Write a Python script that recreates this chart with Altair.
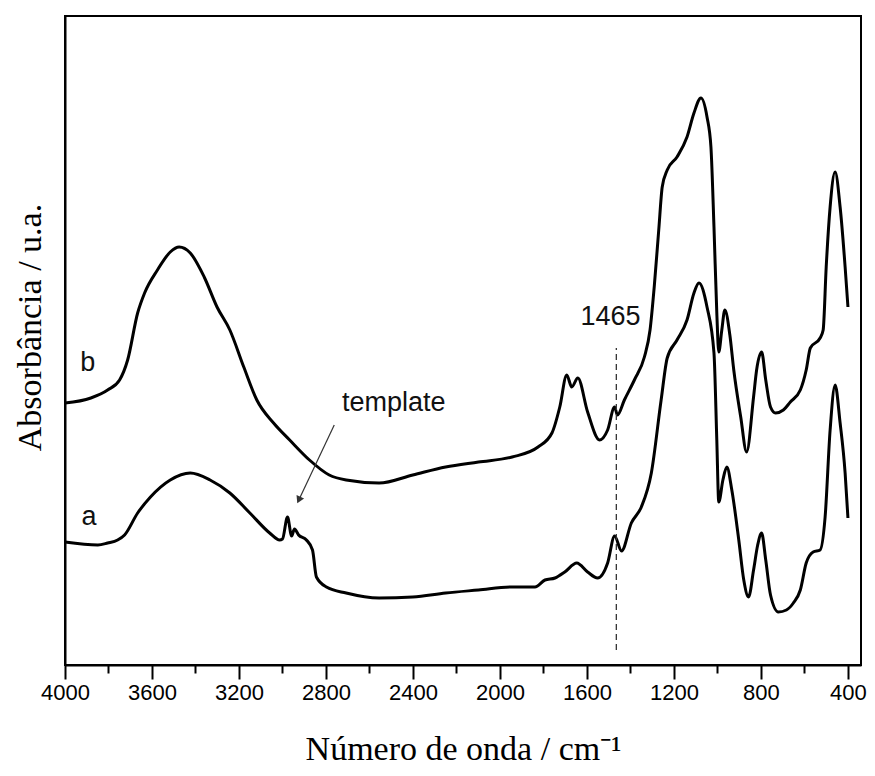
import altair as alt
import pandas as pd

# ---- data (wavenumber in cm-1, absorbance in a.u.) ----
wn_b = [4000, 3881, 3804, 3749, 3712, 3666, 3634, 3575, 3516, 3475, 3424, 3360, 3301,
        3242, 3178, 3118, 3041, 2967, 2876, 2785, 2707, 2556, 2401, 2250, 2099, 1944,
        1825, 1761, 1725, 1693, 1670, 1642, 1597, 1542, 1505, 1473, 1460, 1428, 1382,
        1336, 1310, 1290, 1270, 1254, 1231, 1186, 1140, 1108, 1076, 1048, 1030, 1016,
        1003, 994, 980, 966, 943, 925, 893, 866, 834, 820, 797, 778, 756, 733, 697,
        665, 619, 592, 573, 528, 514, 500, 482, 459, 436, 413, 400]
abs_b = [2.62, 2.67, 2.75, 2.85, 3.05, 3.52, 3.72, 3.95, 4.13, 4.18, 4.12, 3.88, 3.58,
         3.35, 2.98, 2.65, 2.42, 2.25, 2.05, 1.90, 1.85, 1.82, 1.90, 1.98, 2.03, 2.08,
         2.18, 2.32, 2.58, 2.90, 2.78, 2.87, 2.53, 2.25, 2.35, 2.58, 2.50, 2.65, 2.85,
         3.08, 3.35, 3.80, 4.35, 4.78, 4.95, 5.08, 5.28, 5.52, 5.67, 5.48, 5.18, 4.38,
         3.52, 3.13, 3.35, 3.55, 3.30, 2.95, 2.48, 2.13, 2.68, 2.95, 3.13, 2.85, 2.58,
         2.52, 2.55, 2.63, 2.75, 2.95, 3.17, 3.27, 3.35, 3.98, 4.58, 4.93, 4.58, 3.98,
         3.58]

wn_a = [4000, 3849, 3804, 3758, 3726, 3666, 3607, 3516, 3424, 3333, 3242, 3150, 3059,
        3013, 3000, 2977, 2958, 2945, 2926, 2890, 2862, 2844, 2798, 2707, 2556, 2401,
        2250, 2099, 1944, 1839, 1793, 1747, 1702, 1647, 1597, 1551, 1505, 1473, 1441,
        1396, 1350, 1304, 1259, 1231, 1186, 1140, 1108, 1085, 1048, 1016, 1003, 994,
        975, 957, 934, 902, 879, 857, 834, 815, 797, 778, 756, 720, 683, 651, 619, 592,
        560, 528, 505, 482, 459, 436, 413, 400]
abs_a = [1.23, 1.20, 1.22, 1.25, 1.30, 1.52, 1.68, 1.85, 1.92, 1.85, 1.72, 1.52, 1.32,
         1.25, 1.26, 1.48, 1.29, 1.36, 1.30, 1.25, 1.15, 0.88, 0.78, 0.72, 0.67, 0.68,
         0.72, 0.75, 0.78, 0.78, 0.85, 0.87, 0.93, 1.02, 0.93, 0.87, 1.02, 1.29, 1.14,
         1.42, 1.58, 1.92, 2.65, 3.07, 3.25, 3.45, 3.72, 3.82, 3.58, 3.12, 2.25, 1.63,
         1.85, 1.98, 1.75, 1.25, 0.85, 0.68, 0.95, 1.20, 1.32, 1.05, 0.70, 0.53, 0.55,
         0.62, 0.75, 1.02, 1.13, 1.15, 1.48, 2.35, 2.80, 2.42, 1.92, 1.47]

major_ticks = [4000, 3600, 3200, 2800, 2400, 2000, 1600, 1200, 800, 400]
minor_ticks = [3800, 3400, 3000, 2600, 2200, 1800, 1400, 1000, 600]

label_texts = ["b", "a", "template", "1465"]
label_wn = [3895, 3890, 2488, 1492]
label_abs = [3.02, 1.48, 2.62, 3.48]

marker_wn = [1465]
marker_abs_low = [0.15]
marker_abs_high = [3.17]

arrow_wn = [2762, 2925]
arrow_abs = [2.40, 1.65]
arrow_head_wn = [2925]
arrow_head_abs = [1.65]

# ---- tables ----
curves = pd.concat([
    pd.DataFrame({"wn": wn_b, "A": abs_b, "s": "b"}),
    pd.DataFrame({"wn": wn_a, "A": abs_a, "s": "a"}),
])
labels = pd.DataFrame({"wn": label_wn, "A": label_abs, "t": label_texts})
marker = pd.DataFrame({"wn": marker_wn, "A": marker_abs_low, "A2": marker_abs_high})
arrow = pd.DataFrame({"wn": arrow_wn, "A": arrow_abs, "o": [0, 1]})
head = pd.DataFrame({"wn": arrow_head_wn, "A": arrow_head_abs})

xs = alt.Scale(domain=[4000, 340], nice=False, zero=False)
ys = alt.Scale(domain=[0, 6.49], nice=False, zero=False)

x_major = alt.Axis(values=major_ticks, format="d", orient="bottom",
                   tickSize=14, tickWidth=2, tickColor="black",
                   domain=True, domainColor="black", domainWidth=2, grid=False,
                   labelFont="Liberation Sans", labelFontSize=22, labelColor="black",
                   labelPadding=3, labelFlush=False, labelOverlap=False,
                   title="Número de onda / cm⁻¹", titleFont="Liberation Serif",
                   titleFontSize=34, titleFontWeight="normal", titleColor="black",
                   titleY=84, titleBaseline="middle")
x_minor = alt.Axis(values=minor_ticks, orient="bottom", tickSize=8, tickWidth=2,
                   tickColor="black", domain=False, grid=False, labels=False, title=None)
y_axis = alt.Axis(labels=False, ticks=False, domain=True, domainColor="black",
                  domainWidth=2, grid=False, title="Absorbância / u.a.",
                  titleFont="Liberation Serif", titleFontSize=34,
                  titleFontWeight="normal", titleColor="black", titleAngle=270,
                  titleX=-35, titleY=311, titleAlign="center", titleBaseline="middle")

lines = alt.Chart(curves).mark_line(color="black", strokeWidth=3, strokeJoin="round",
                                    interpolate="monotone").encode(
    x=alt.X("wn:Q", scale=xs, axis=x_major),
    y=alt.Y("A:Q", scale=ys, axis=y_axis),
    detail="s:N",
)

dash = alt.Chart(marker).mark_rule(color="#333333", strokeWidth=1.3, strokeDash=[6, 4]).encode(
    x=alt.X("wn:Q", scale=xs, axis=x_minor),
    y=alt.Y("A:Q", scale=ys, axis=None),
    y2="A2:Q",
)

texts = alt.Chart(labels).mark_text(font="Liberation Sans", fontSize=27, color="#111111",
                                    align="center", baseline="middle").encode(
    x=alt.X("wn:Q", scale=xs, axis=None),
    y=alt.Y("A:Q", scale=ys, axis=None),
    text="t:N",
)

arrow_line = alt.Chart(arrow).mark_line(color="#333333", strokeWidth=1.2).encode(
    x=alt.X("wn:Q", scale=xs, axis=None),
    y=alt.Y("A:Q", scale=ys, axis=None),
    order="o:Q",
)

arrow_head = alt.Chart(head).mark_point(shape="triangle-down", angle=25, size=70,
                                        filled=True, color="#333333", opacity=1).encode(
    x=alt.X("wn:Q", scale=xs, axis=None),
    y=alt.Y("A:Q", scale=ys, axis=None),
)

chart = alt.layer(lines, dash, texts, arrow_line, arrow_head).resolve_axis(
    x="independent", y="independent"
).properties(
    width=796, height=649,
    autosize=alt.AutoSizeParams(type="none"),
    padding={"left": 57, "top": 8, "right": 6, "bottom": 100},
).configure_view(stroke="black", strokeWidth=2)

chart.save("out.html", embed_options={"renderer": "svg", "actions": False})
